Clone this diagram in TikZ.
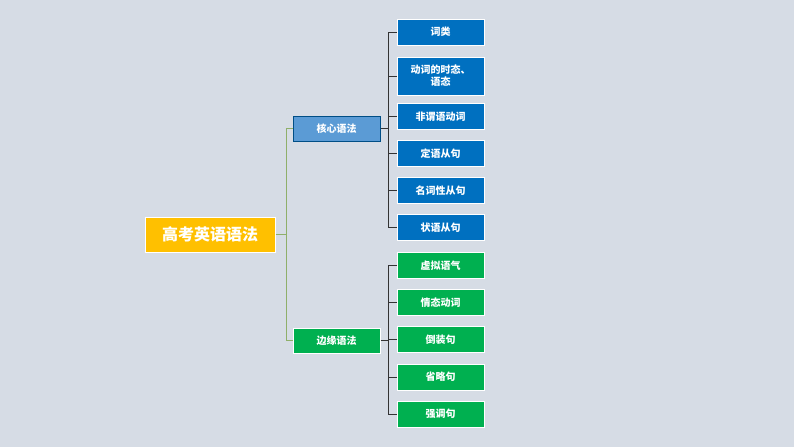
\documentclass[tikz,border=0pt]{standalone}
\usepackage{fontspec}
\newfontfamily\cjk{Noto Sans CJK SC}
\definecolor{bg}{HTML}{D6DCE5}
\definecolor{lb}{HTML}{5B9BD5}
\definecolor{db}{HTML}{0070C0}
\definecolor{gr}{HTML}{00B050}
\definecolor{yl}{HTML}{FFC000}
\definecolor{ln1}{HTML}{8FAF6A}
\tikzset{
 box/.style={draw=white,line width=1pt,text=white,font=\cjk\bfseries\fontsize{10}{12}\selectfont,minimum width=87pt,inner sep=1pt,align=center},
 leafb/.style={box,fill=db,minimum height=26pt},
 leafg/.style={box,fill=gr,minimum height=26pt},
 link1/.style={draw=ln1,line width=0.8pt},
 link2/.style={draw=black!80,line width=0.8pt}
}
\begin{document}
\begin{tikzpicture}[x=1pt,y=-1pt]
\fill[bg] (0,0) rectangle (794,447);
\useasboundingbox (0,0) rectangle (794,447);
\node[box,fill=yl,minimum width=130pt,minimum height=35pt,font=\cjk\bfseries\fontsize{16}{19}\selectfont] (root) at (210,234.5) {高考英语语法};
\node[box,fill=lb,draw=db!70!black,minimum height=25pt] (core) at (336.5,128.5) {核心语法};
\node[box,fill=gr,minimum height=25pt] (edge) at (336.5,340.5) {边缘语法};
\node[leafb] (b1) at (440.5,32) {词类};
\node[leafb,minimum height=38pt] (b2) at (440.5,76) {动词的时态、\\语态};
\node[leafb] (b3) at (440.5,116.5) {非谓语动词};
\node[leafb] (b4) at (440.5,153.5) {定语从句};
\node[leafb] (b5) at (440.5,190.5) {名词性从句};
\node[leafb] (b6) at (440.5,227.5) {状语从句};
\node[leafg] (g1) at (440.5,265.5) {虚拟语气};
\node[leafg] (g2) at (440.5,302.5) {情态动词};
\node[leafg] (g3) at (440.5,339.5) {倒装句};
\node[leafg] (g4) at (440.5,377) {省略句};
\node[leafg] (g5) at (440.5,414) {强调句};
\coordinate (r) at (286,0);
\draw[link1] (root.east) -- (root.east -| r) -- (r |- core.west) -- (core.west);
\draw[link1] (root.east -| r) -- (r |- edge.west) -- (edge.west);
\coordinate (c) at (388,0);
\draw[link2] (core.east) -- (core.east -| c);
\foreach \n in {b1,b2,b3,b4,b5,b6}{\draw[link2] (core.east -| c) -- (c |- \n.west) -- (\n.west);}
\draw[link2] (edge.east) -- (edge.east -| c);
\foreach \n in {g1,g2,g3,g4,g5}{\draw[link2] (edge.east -| c) -- (c |- \n.west) -- (\n.west);}
\end{tikzpicture}
\end{document}
